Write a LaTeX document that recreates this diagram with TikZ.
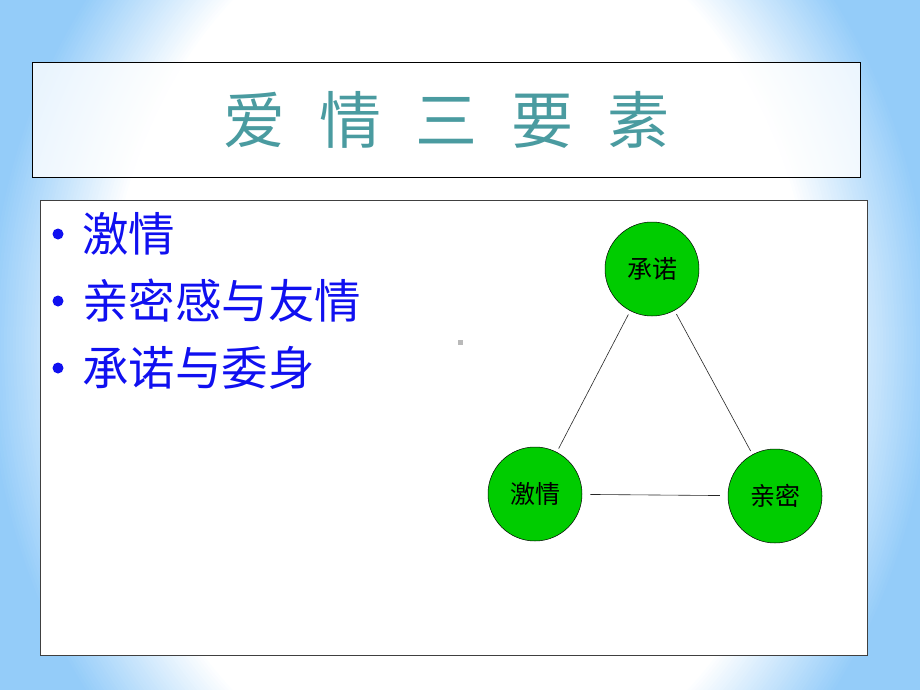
\documentclass[tikz,border=0pt]{standalone}
\usepackage{fontspec}
\newfontfamily\cjk{Noto Sans CJK SC}
\definecolor{bgblue}{HTML}{94CCF9}
\definecolor{titlecol}{HTML}{4A9BA0}
\definecolor{bulletblue}{HTML}{1010F0}
\definecolor{nodegreen}{HTML}{00CC00}
\tikzset{
  framebox/.style={draw=black, line width=0.8pt, inner sep=0pt},
  titletext/.style={text=titlecol, font=\cjk\fontsize{62pt}{62pt}\selectfont, inner sep=0pt},
  bulletdot/.style={circle, fill=bulletblue, minimum size=11pt, inner sep=0pt},
  itemtext/.style={anchor=west, text=bulletblue, font=\cjk\fontsize{46.5pt}{46.5pt}\selectfont, inner sep=0pt},
  circnode/.style={circle, draw=black, line width=0.5pt, fill=nodegreen, minimum size=94pt, inner sep=0pt, font=\cjk\fontsize{25pt}{25pt}\selectfont},
  edge/.style={draw=black!85, line width=0.6pt, shorten <=4pt, shorten >=4pt}
}
\begin{document}
\begin{tikzpicture}[x=1pt,y=-1pt]
\useasboundingbox (0,0) rectangle (920,690);
\begin{scope}
  \clip (0,0) rectangle (920,690);
  \fill[bgblue] (0,0) rectangle (920,690);
  \foreach \i in {0,...,40} {
    \pgfmathsetmacro{\mixp}{min(100,2.5*\i)}
    \fill[white!\mixp!bgblue] (460,345) ellipse ({474pt-3pt*\i} and {570pt-3pt*\i});
  }
\end{scope}
% title box
\node[framebox, fill=white, fill opacity=0.8, minimum width=828pt, minimum height=115pt] (titlebox) at (446,119.5) {};
\node[titletext] (title) at (446.5,120) {爱\hspace{34pt}情\hspace{34pt}三\hspace{34pt}要\hspace{34pt}素};
% content box
\node[framebox, draw=black!75, fill=white, minimum width=827pt, minimum height=455pt] (content) at (453.5,427.5) {};
% bullets
\node[bulletdot] (b1) at (58,234) {};
\node[itemtext] (t1) at (82,234) {激情};
\node[bulletdot] (b2) at (58,301) {};
\node[itemtext] (t2) at (82,301) {亲密感与友情};
\node[bulletdot] (b3) at (58,368) {};
\node[itemtext] (t3) at (82,368) {承诺与委身};
% small mark
\fill[gray!55] (457.5,339.5) rectangle (462.5,344.5);
% triangle
\node[circnode] (cn) at (652,269) {承诺};
\node[circnode] (jq) at (535,494) {激情};
\node[circnode] (qm) at (775,496) {亲密};
\draw[edge] (cn) -- (jq);
\draw[edge] (cn) -- (qm);
\draw[edge, shorten <=8pt, shorten >=8pt] (jq) -- (qm);
\end{tikzpicture}
\end{document}
